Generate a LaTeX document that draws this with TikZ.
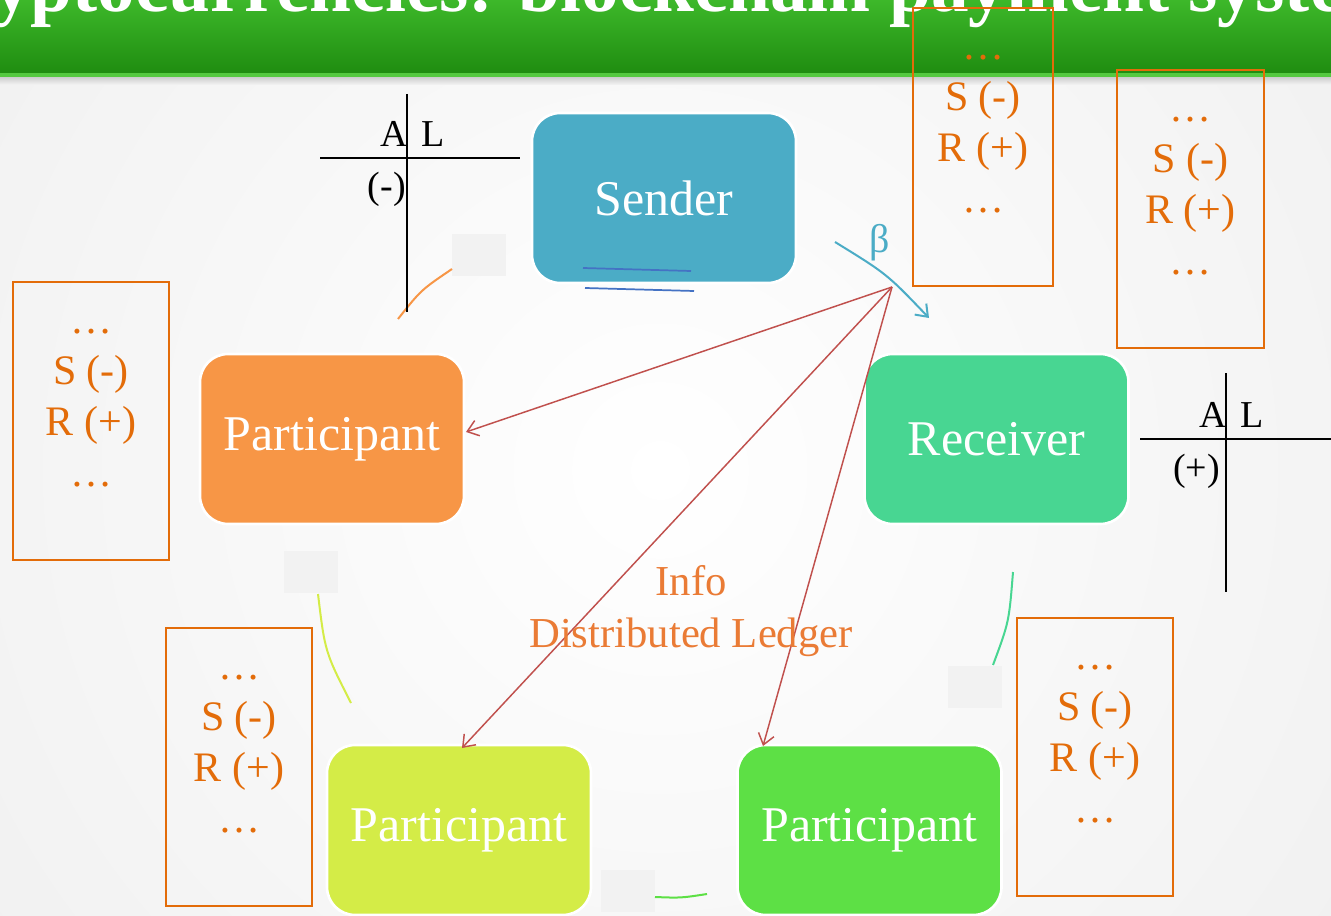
\documentclass[tikz,border=0pt]{standalone}
\usepackage{fontspec}
\setmainfont{Liberation Serif}
\usetikzlibrary{arrows.meta}
\definecolor{sendercol}{HTML}{4BACC6}
\definecolor{partorange}{HTML}{F79646}
\definecolor{receivercol}{HTML}{48D692}
\definecolor{partyellow}{HTML}{D4EC47}
\definecolor{partgreen}{HTML}{5DE045}
\definecolor{redarrow}{HTML}{C0504D}
\definecolor{boxorange}{HTML}{E36C09}
\definecolor{infoorange}{HTML}{EA7B35}
\definecolor{penblue}{HTML}{4472C4}
\definecolor{bannertop}{HTML}{3DB82A}
\definecolor{bannerbot}{HTML}{1F8C10}
\definecolor{bannerline}{HTML}{55C940}
\definecolor{graybox}{HTML}{F2F2F2}
\definecolor{bggray}{HTML}{EEEEEE}
\tikzset{
  stage/.style={rounded corners=21pt, minimum width=198pt, minimum height=127.5pt,
    draw=white, line width=2pt, text=white, font=\fontsize{37.5}{45}\selectfont},
  ledger/.style={draw=boxorange, line width=1.4pt, minimum height=208.5pt},
  ledgertext/.style={text=boxorange, align=center, inner sep=0pt,
    font=\fontsize{31.5}{38.25}\selectfont},
  tline/.style={black, line width=1.4pt},
  tlabel/.style={inner sep=0pt, font=\fontsize{28.5}{34}\selectfont},
  graysq/.style={fill=graybox, draw=none, minimum width=40.5pt, minimum height=31.5pt, inner sep=0pt},
  infoarrow/.style={redarrow, line width=1.1pt, -{Straight Barb[length=8pt,width=12pt]}},
  cyclearc/.style={line width=1.5pt},
}
\begin{document}
\begin{tikzpicture}[x=0.75pt,y=-0.75pt]
\useasboundingbox (0,0) rectangle (1331,916);
\clip (0,0) rectangle (1331,916);
% background
\fill[bggray] (0,0) rectangle (1331,916);
\shade[inner color=white, outer color=bggray] (660,470) circle (1000);
% banner
\shade[top color=bannertop, bottom color=bannerbot] (0,0) rectangle (1331,74);
\fill[bannerline] (0,73) rectangle (1331,78);
\shade[top color=gray!35, bottom color=bggray!60!white] (0,78) rectangle (1331,85);
\node[anchor=base west, text=white, inner sep=0pt, font=\bfseries\fontsize{56.5}{60}\selectfont] (title) at (-95,12) {Cryptocurrencies: blockchain payment systems};

% gray squares
\node[graysq] (sq1) at (479,255.5) {};
\node[graysq] (sq2) at (311,572) {};
\node[graysq] (sq3) at (975,686.5) {};
\node[graysq] (sq4) at (628,890.5) {};

% cycle arcs
\coordinate (a1s) at (398,319); \coordinate (a1e) at (452,269);
\coordinate (a2s) at (318,594); \coordinate (a2e) at (351,703);
\coordinate (a3s) at (1013,572); \coordinate (a3e) at (993,665);
\coordinate (a4s) at (655,897); \coordinate (a4e) at (707,894);
\draw[cyclearc, partorange] (a1s) .. controls (421,290) .. (a1e);
\draw[cyclearc, partyellow] (a2s) .. controls (325,652) .. (a2e);
\draw[cyclearc, receivercol] (a3s) .. controls (1009,622) .. (a3e);
\draw[cyclearc, partgreen] (a4s) .. controls (681,898) .. (a4e);

% main nodes
\node[stage, fill=sendercol] (sender) at (664,198) {Sender};
\node[stage, fill=partorange] (p1) at (332,439) {Participant};
\node[stage, fill=receivercol] (receiver) at (996.5,439) {Receiver};
\node[stage, fill=partyellow] (p2) at (459,830) {Participant};
\node[stage, fill=partgreen] (p3) at (869.5,830) {Participant};

% pen strokes under sender
\draw[penblue, line width=1.3pt] (583,268) -- (691,271);
\draw[penblue, line width=1.3pt] (585,288) -- (694,291);

% T-accounts
\draw[tline] (320,158) -- (520,158);
\draw[tline] (407,94) -- (407,312);
\node[tlabel, anchor=base east] (ta1) at (408,147) {A};
\node[tlabel, anchor=base west] (tl1) at (421,147) {L};
\node[tlabel, anchor=base east] (tm1) at (406,199) {(-)};
\draw[tline] (1140,439) -- (1331,439);
\draw[tline] (1226,373) -- (1226,592);
\node[tlabel, anchor=base east] (ta2) at (1227,427) {A};
\node[tlabel, anchor=base west] (tl2) at (1240,427) {L};
\node[tlabel, anchor=base east] (tp2) at (1220,480) {(+)};

% ledgers
\node[ledger, minimum width=105pt] (l1) at (983,147) {};
\node[ledger, minimum width=110pt] (l2) at (1190.5,209) {};
\node[ledger, minimum width=117pt] (l3) at (91,421) {};
\node[ledger, minimum width=109.5pt] (l4) at (239,767) {};
\node[ledger, minimum width=117pt] (l5) at (1095,757) {};
\foreach \b in {l1,l2,l3,l4,l5}
  \node[ledgertext] (\b t) at ([yshift=10pt]\b.center) {…\\S (-)\\R (+)\\…};

% beta transfer
\coordinate (bs) at (835,242);
\coordinate (be) at (929,318);
\draw[sendercol, line width=1.5pt, -{Straight Barb[length=8pt,width=12pt]}] (bs) .. controls (887,274) .. (be);
\node[text=sendercol, inner sep=0pt, font=\fontsize{30}{34}\selectfont] (beta) at (880,243) {β};

% info broadcast
\coordinate (hub) at (892,287);
\draw[infoarrow] (hub) -- (466,432);
\draw[infoarrow] (hub) -- (462,748);
\draw[infoarrow] (hub) -- (763,746);

\node[text=infoorange, align=center, inner sep=0pt, font=\fontsize{32}{39}\selectfont] (info) at (691,611) {Info\\Distributed Ledger};
\end{tikzpicture}
\end{document}
